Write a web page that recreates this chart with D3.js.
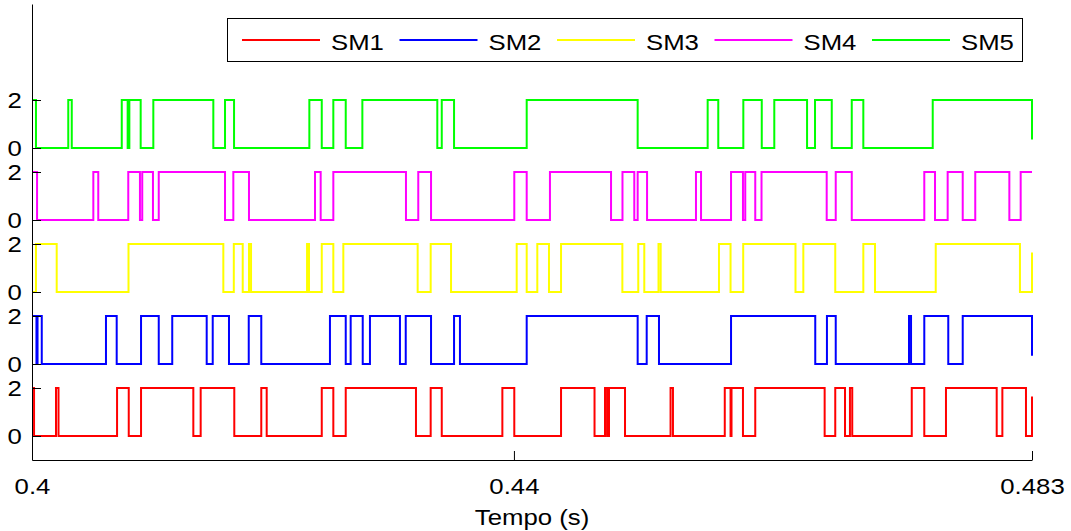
<!DOCTYPE html>
<html><head><meta charset="utf-8">
<script src="https://cdn.jsdelivr.net/npm/d3@7"></script>
<style>body{margin:0;background:#fff} svg{display:block}</style>
</head><body>
<svg id="chart" width="1071" height="531"></svg>
<script>
// ---------------- data ----------------
const seriesNames = ["SM1", "SM2", "SM3", "SM4", "SM5"];
const seriesColors = ["#ff0000", "#0000ff", "#ffff00", "#ff00ff", "#00ff00"];
const seriesOffsets = [0, 3, 6, 9, 12];
const startLevels = [2, 2, 0, 2, 2];
const endLevels = [1.65, 0.34, 1.65, 2, 0.35];

// switching instants (s); the level toggles 0 <-> 2 at each one
const sm1Switch = [0.40017, 0.40199, 0.40220, 0.40706, 0.40803, 0.40905, 0.41339, 0.41400, 0.41679, 0.41903,
  0.41948, 0.42405, 0.42501, 0.42604, 0.43187, 0.43309, 0.43401, 0.43904, 0.44003, 0.44391,
  0.44669, 0.44756, 0.44773, 0.44789, 0.44922, 0.45300, 0.45320, 0.45750, 0.45798, 0.45806,
  0.45901, 0.46003, 0.46579, 0.46667, 0.46748, 0.46789, 0.46808, 0.47302, 0.47406, 0.47586,
  0.48007, 0.48054, 0.48250];
const sm2Switch = [0.40037, 0.40046, 0.40081, 0.40614, 0.40703, 0.40905, 0.41052, 0.41164, 0.41450, 0.41500,
  0.41635, 0.41799, 0.41903, 0.42473, 0.42604, 0.42645, 0.42745, 0.42805, 0.43054, 0.43102,
  0.43312, 0.43503, 0.43552, 0.44106, 0.45027, 0.45102, 0.45204, 0.45802, 0.46501, 0.46598,
  0.46671, 0.47279, 0.47296, 0.47406, 0.47605, 0.47725];
const sm3Switch = [0.40033, 0.40205, 0.40801, 0.41588, 0.41675, 0.41749, 0.41801, 0.41818, 0.42283, 0.42299,
  0.42405, 0.42501, 0.42584, 0.43201, 0.43309, 0.43478, 0.44023, 0.44106, 0.44194, 0.44291,
  0.44391, 0.44900, 0.45032, 0.45082, 0.45200, 0.45218, 0.45702, 0.45798, 0.45903, 0.46337,
  0.46402, 0.46667, 0.46900, 0.46997, 0.47501, 0.48200];
const sm4Switch = [0.40042, 0.40509, 0.40550, 0.40799, 0.40896, 0.40915, 0.41004, 0.41052, 0.41602, 0.41671,
  0.41801, 0.42349, 0.42396, 0.42501, 0.43104, 0.43206, 0.43312, 0.44003, 0.44106, 0.44299,
  0.44806, 0.44901, 0.44999, 0.45027, 0.45105, 0.45511, 0.45553, 0.45802, 0.45901, 0.45920,
  0.46003, 0.46055, 0.46596, 0.46671, 0.46804, 0.47406, 0.47495, 0.47600, 0.47725, 0.47829,
  0.48112, 0.48206];
const sm5Switch = [0.40033, 0.40301, 0.40330, 0.40745, 0.40794, 0.40808, 0.40902, 0.41007, 0.41505, 0.41602,
  0.41677, 0.42302, 0.42405, 0.42501, 0.42604, 0.42742, 0.43364, 0.43401, 0.43503, 0.44106,
  0.45027, 0.45608, 0.45696, 0.45904, 0.46057, 0.46161, 0.46433, 0.46499, 0.46638, 0.46804,
  0.46900, 0.47476];
const switchTimes = [sm1Switch, sm2Switch, sm3Switch, sm4Switch, sm5Switch];

const timeDomain = [0.4, 0.483];
const xTickValues = [0.4, 0.44, 0.483];
const xTickLabels = ["0.4", "0.44", "0.483"];
const yTickValues = [0, 2, 3, 5, 6, 8, 9, 11, 12, 14];
const yTickLabels = ["0", "2", "0", "2", "0", "2", "0", "2", "0", "2"];
const xLabel = "Tempo (s)";

// ---------------- drawing ----------------
const FONT = "'Liberation Sans', Arial, Helvetica, sans-serif";
const FS = 23, STRETCH = 1.12;
const svg = d3.select("#chart");
svg.append("rect").attr("width", 1071).attr("height", 531).attr("fill", "#fff");

const x = d3.scaleLinear().domain(timeDomain).range([32, 1032]);
const y = d3.scaleLinear().domain([-1, 18]).range([460, 4]);

function buildPoints(i) {
  let v = startLevels[i];
  const pts = [[timeDomain[0], v]];
  switchTimes[i].forEach(t => { pts.push([t, v]); v = (v === 2 ? 0 : 2); pts.push([t, v]); });
  pts.push([timeDomain[1], v]);
  if (endLevels[i] !== v) pts.push([timeDomain[1], endLevels[i]]);
  return pts;
}

const line = d3.line().x(d => x(d[0])).y(d => y(d[1]));
seriesNames.forEach((name, i) => {
  const pts = buildPoints(i).map(p => [p[0], p[1] + seriesOffsets[i]]);
  svg.append("path").datum(pts)
    .attr("d", line).attr("fill", "none")
    .attr("stroke", seriesColors[i]).attr("stroke-width", 2)
    .attr("stroke-linejoin", "miter");
});

// axes
const xAxis = d3.axisBottom(x).tickValues(xTickValues)
  .tickFormat((d, i) => xTickLabels[i]).tickSizeInner(-9).tickSizeOuter(0).tickPadding(14);
const gx = svg.append("g").attr("transform", "translate(0,460)").call(xAxis);
const yAxis = d3.axisLeft(y).tickValues(yTickValues)
  .tickFormat((d, i) => yTickLabels[i]).tickSizeInner(-9).tickSizeOuter(0).tickPadding(9);
const gy = svg.append("g").attr("transform", "translate(32,0)").call(yAxis);

[gx, gy].forEach(g => {
  g.select(".domain").attr("stroke", "#000").attr("stroke-width", 1);
  g.selectAll(".tick line").attr("stroke", "#000");
  g.selectAll(".tick text").attr("fill", "#000")
    .style("font-family", FONT).style("font-size", FS + "px")
    .attr("transform", `scale(${STRETCH},1)`);
});
gx.selectAll(".tick text").attr("dy", "0").attr("y", 494 - 460);

svg.append("text")
  .attr("transform", `translate(${(x.range()[0] + x.range()[1]) / 2},525) scale(${STRETCH},1)`)
  .attr("text-anchor", "middle")
  .style("font-family", FONT).style("font-size", FS + "px")
  .text(xLabel);

// legend
const lg = svg.append("g");
lg.append("rect").attr("x", 227.5).attr("y", 18.5).attr("width", 795).attr("height", 43)
  .attr("fill", "#fff").attr("stroke", "#000").attr("stroke-width", 1);
seriesNames.forEach((name, i) => {
  const x0 = 242 + i * 157.5;
  lg.append("line").attr("x1", x0).attr("x2", x0 + 78).attr("y1", 40).attr("y2", 40)
    .attr("stroke", seriesColors[i]).attr("stroke-width", 2);
  lg.append("text")
    .attr("transform", `translate(${x0 + 89},50) scale(${STRETCH},1)`)
    .style("font-family", FONT).style("font-size", FS + "px")
    .text(name);
});
</script></body></html>
